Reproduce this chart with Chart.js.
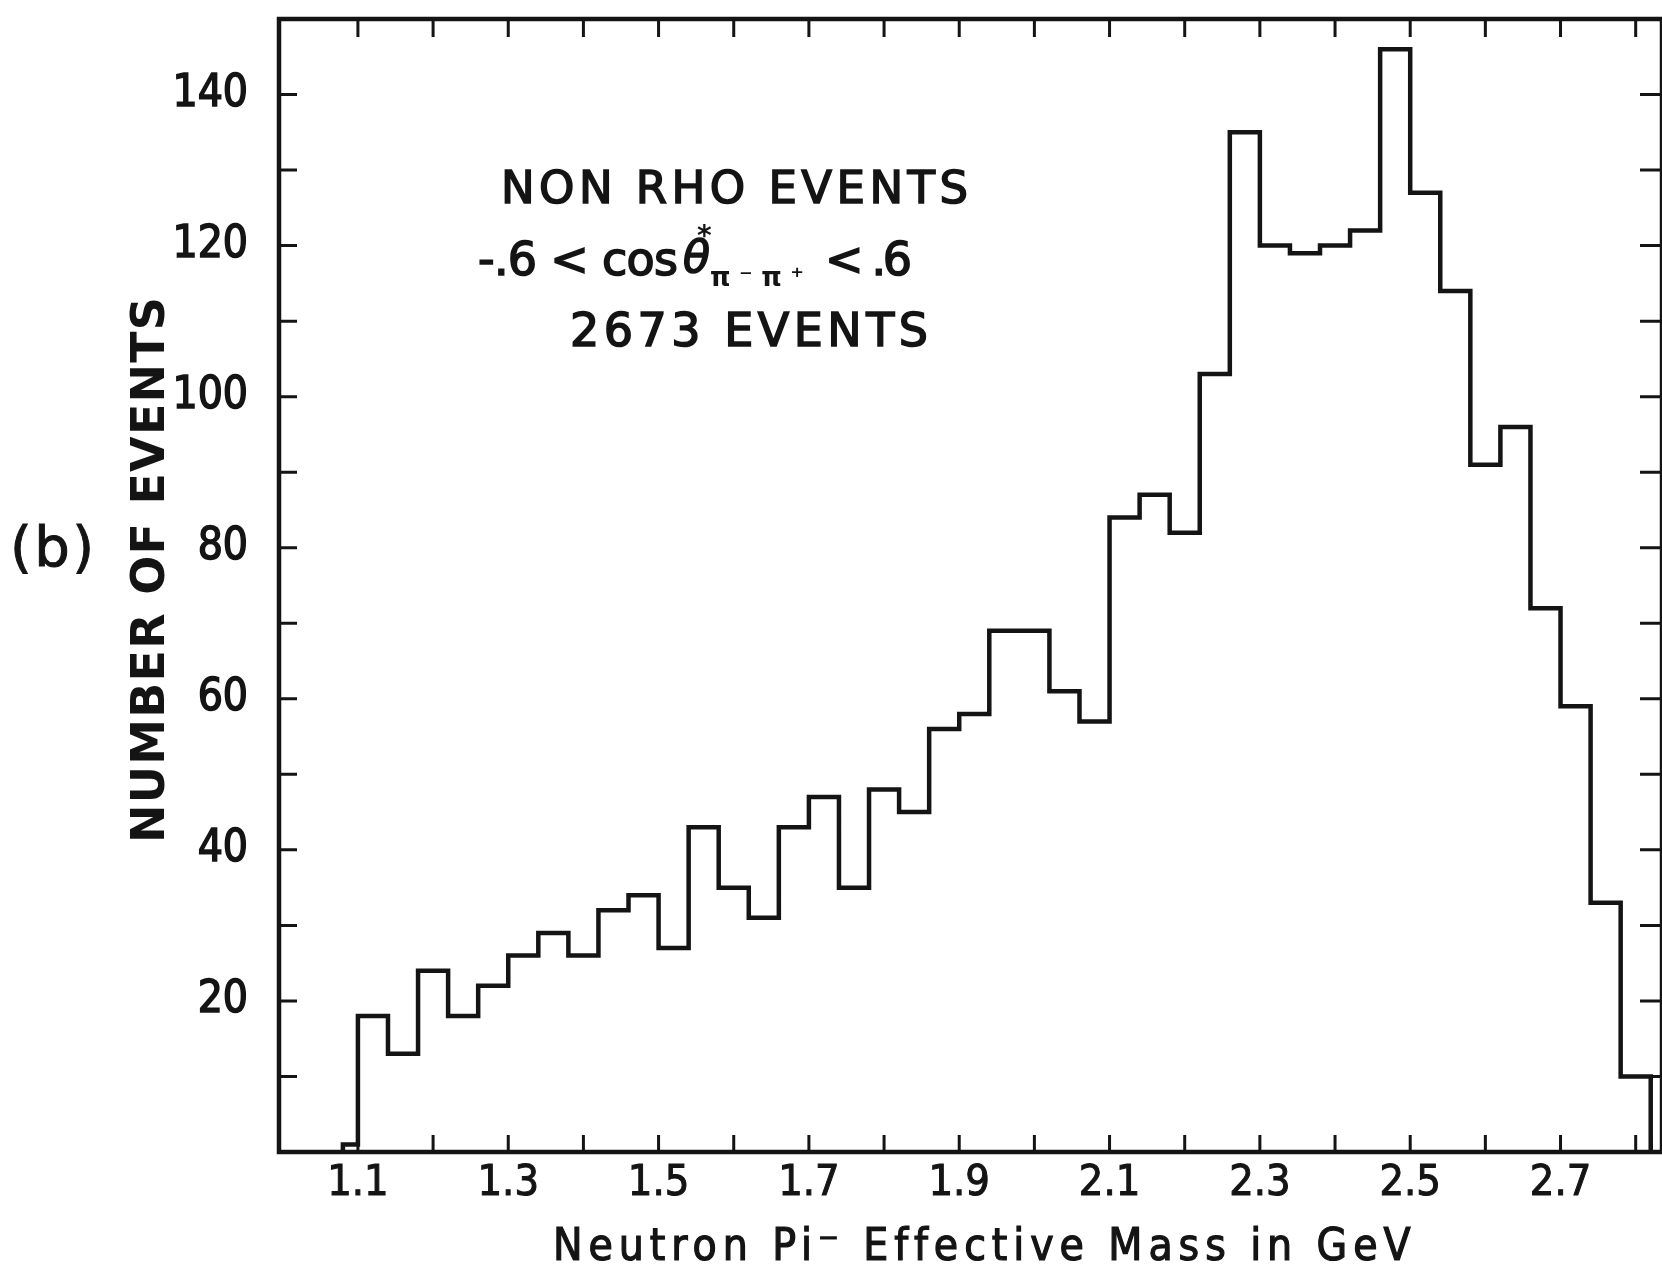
<!DOCTYPE html>
<html>
<head>
<meta charset="utf-8">
<title>Neutron Pi- effective mass</title>
<script src="https://cdn.jsdelivr.net/npm/chart.js@4.4.0/dist/chart.umd.min.js"></script>
<style>
  html, body { margin: 0; padding: 0; background: #fff; }
  #hist { display: block; }
</style>
</head>
<body>
<canvas id="hist" width="1662" height="1272"></canvas>
<script>
// ─── DATA ───
// bin edges in GeV (0.04 GeV bins, plus the lone event just under 1.10)
const binEdges = [
  1.08, 1.10, 1.14, 1.18, 1.22, 1.26, 1.30, 1.34, 1.38, 1.42, 1.46,
  1.50, 1.54, 1.58, 1.62, 1.66, 1.70, 1.74, 1.78, 1.82, 1.86, 1.90,
  1.94, 1.98, 2.02, 2.06, 2.10, 2.14, 2.18, 2.22, 2.26, 2.30, 2.34,
  2.38, 2.42, 2.46, 2.50, 2.54, 2.58, 2.62, 2.66, 2.70, 2.74, 2.78, 2.82
];
const binCounts = [
  1, 18, 13, 24, 18, 22, 26, 29, 26, 32,
  34, 27, 43, 35, 31, 43, 47, 35, 48, 45,
  56, 58, 69, 69, 61, 57, 84, 87, 82, 103,
  135, 120, 119, 120, 122, 146, 127, 114, 91, 96,
  72, 59, 33, 10
];
const xTickValues = [1.1, 1.2, 1.3, 1.4, 1.5, 1.6, 1.7, 1.8, 1.9, 2.0, 2.1, 2.2, 2.3, 2.4, 2.5, 2.6, 2.7, 2.8];
const xTickLabels = ['1.1', '1.3', '1.5', '1.7', '1.9', '2.1', '2.3', '2.5', '2.7'];
const yTickValues = [10, 20, 30, 40, 50, 60, 70, 80, 90, 100, 110, 120, 130, 140];
const yTickLabels = ['20', '40', '60', '80', '100', '120', '140'];

const INK = '#141414';
const FONT = '"DejaVu Sans", "Liberation Sans", sans-serif';
const FONT_C = '"DejaVu Sans Condensed", "DejaVu Sans", sans-serif';

// outline of the histogram: up from the axis, across each bin, back down at the end
const outline = [{ x: binEdges[0], y: 0 }];
binCounts.forEach((c, i) => outline.push({ x: binEdges[i], y: c }));
outline.push({ x: binEdges[binEdges.length - 1], y: 0 });

// text with its letters spread to fill a given width
function spacedText(ctx, str, left, midY, width, font, stroke) {
  ctx.font = font;
  ctx.letterSpacing = '0px';
  const w = ctx.measureText(str).width;
  const gap = str.length > 1 ? (width - w) / (str.length - 1) : 0;
  ctx.letterSpacing = gap + 'px';
  ctx.textAlign = 'left';
  ctx.textBaseline = 'middle';
  ctx.fillText(str, left, midY);
  if (stroke) { ctx.lineWidth = stroke; ctx.strokeText(str, left, midY); }
  ctx.letterSpacing = '0px';
}

// ─── FRAME, INWARD TICKS AND LABELS ───
const framePlugin = {
  id: 'frame',
  afterDatasetsDraw(chart) {
    const { ctx, chartArea: a, scales: { x, y } } = chart;
    ctx.save();
    ctx.strokeStyle = INK;
    ctx.fillStyle = INK;

    ctx.lineWidth = 4.5;
    ctx.lineJoin = 'miter';
    ctx.strokeRect(a.left, a.top, a.right - a.left, a.bottom - a.top);

    ctx.lineWidth = 3;
    ctx.beginPath();
    xTickValues.forEach(v => {
      const px = x.getPixelForValue(v);
      ctx.moveTo(px, a.bottom); ctx.lineTo(px, a.bottom - 17);
      ctx.moveTo(px, a.top); ctx.lineTo(px, a.top + 18);
    });
    yTickValues.forEach(v => {
      const py = y.getPixelForValue(v);
      ctx.moveTo(a.left, py); ctx.lineTo(a.left + 18, py);
      ctx.moveTo(a.right, py); ctx.lineTo(a.right - 22, py);
    });
    ctx.stroke();

    // panel tag and axis titles
    spacedText(ctx, '(b)', 10, 551, 84, '56px ' + FONT, 1);
    spacedText(ctx, 'Neutron Pi\u207B Effective Mass in GeV', 553, 1249, 857, '44px ' + FONT_C, 1.2);

    ctx.save();
    ctx.translate(152, 570);
    ctx.rotate(-Math.PI / 2);
    spacedText(ctx, 'NUMBER OF EVENTS', -273, 0, 546, 'bold 46px ' + FONT, 0);
    ctx.restore();

    // selection notes
    spacedText(ctx, 'NON RHO EVENTS', 501, 191, 467, '45px ' + FONT, 1.6);
    spacedText(ctx, '-.6 < cos', 478, 263, 200, '46px ' + FONT, 1.6);
    spacedText(ctx, '\u03B8', 683, 261, 26, 'oblique 44px ' + FONT, 1.6);
    spacedText(ctx, '*', 697, 238, 14, 'bold 28px ' + FONT, 0);
    spacedText(ctx, '\u03C0\u207B\u03C0\u207A', 710, 279, 94, 'bold 26px ' + FONT, 0);
    spacedText(ctx, '< .6', 825, 263, 87, '46px ' + FONT, 1.6);
    spacedText(ctx, '2673 EVENTS', 570, 334, 358, '46px ' + FONT, 1.6);

    ctx.restore();
  }
};

// ─── CHART ───
new Chart(document.getElementById('hist'), {
  type: 'line',
  data: {
    datasets: [{
      data: outline,
      stepped: 'before',
      borderColor: INK,
      borderWidth: 4.5,
      borderJoinStyle: 'miter',
      pointRadius: 0,
      fill: false,
      tension: 0,
      clip: 6
    }]
  },
  options: {
    responsive: false,
    animation: false,
    parsing: false,
    layout: { autoPadding: false, padding: { left: 0, top: 19, right: -4, bottom: 0 } },
    plugins: { legend: { display: false }, tooltip: { enabled: false } },
    scales: {
      x: {
        type: 'linear',
        min: 0.995,
        max: 2.835,
        afterBuildTicks: s => { s.ticks = xTickValues.map(value => ({ value })); },
        afterFit: s => { s.height = 120; s.paddingLeft = 0; s.paddingRight = 0; },
        grid: { display: false, drawTicks: false },
        border: { display: false },
        ticks: {
          autoSkip: false,
          maxRotation: 0,
          padding: 6,
          color: INK,
          font: { family: FONT_C, size: 43 },
          textStrokeColor: INK,
          textStrokeWidth: 1,
          callback: v => xTickLabels.includes(v.toFixed(1)) ? v.toFixed(1) : ''
        }
      },
      y: {
        type: 'linear',
        min: 0,
        max: 150,
        afterBuildTicks: s => { s.ticks = yTickValues.map(value => ({ value })); },
        afterFit: s => { s.width = 279; s.paddingTop = 0; s.paddingBottom = 0; },
        grid: { display: false, drawTicks: false },
        border: { display: false },
        ticks: {
          autoSkip: false,
          padding: 31,
          color: INK,
          font: { family: FONT_C, size: 44 },
          textStrokeColor: INK,
          textStrokeWidth: 1.5,
          callback: v => yTickLabels.includes(String(v)) ? String(v) : ''
        }
      }
    }
  },
  plugins: [framePlugin]
});
</script>
</body>
</html>
